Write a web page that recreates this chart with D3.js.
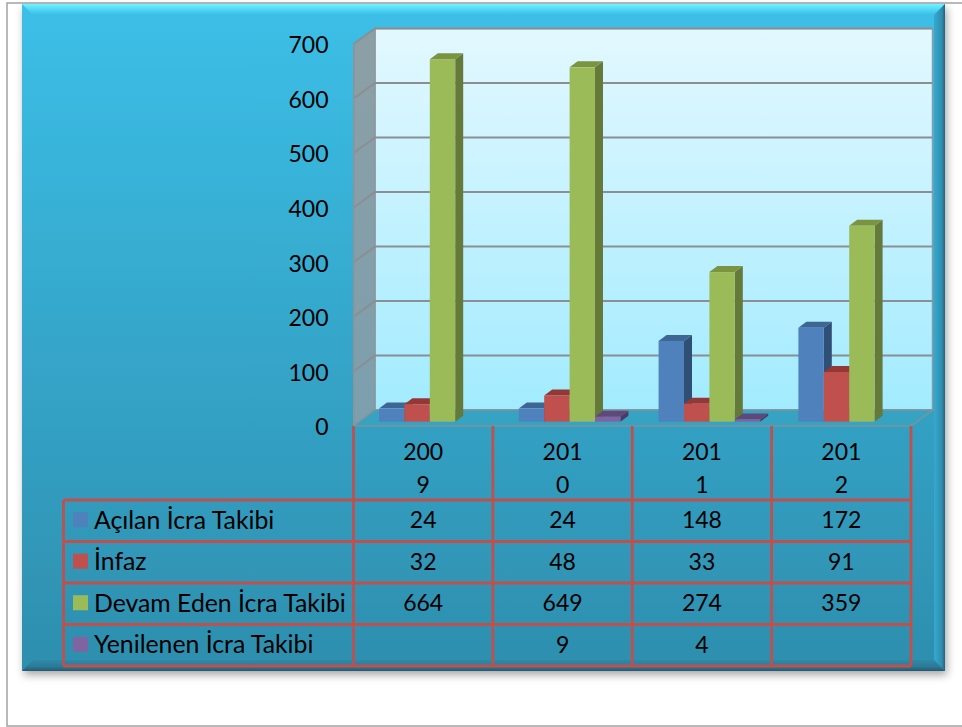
<!DOCTYPE html>
<html lang="tr">
<head>
<meta charset="utf-8">
<title>İcra Takibi</title>
<script src="https://cdn.jsdelivr.net/npm/d3@7/dist/d3.min.js"></script>
<style>
	body { margin: 0; background: #fff; }
	svg { display: block; }
	text { font-family: Lato, "Open Sans", sans-serif; fill: #000; }
</style>
</head>
<body>
<svg width="962" height="727"></svg>
<script>
// data
var years = ["2009", "2010", "2011", "2012"];
var seriesNames = ["Açılan İcra Takibi", "İnfaz", "Devam Eden İcra Takibi", "Yenilenen İcra Takibi"];
var acilan = [24, 24, 148, 172];
var infaz = [32, 48, 33, 91];
var devam = [664, 649, 274, 359];
var yenilenen = [null, 9, 4, null];
var yTicks = [0, 100, 200, 300, 400, 500, 600, 700];

var seriesValues = [acilan, infaz, devam, yenilenen];
var colors = ["#4f81bd", "#c0504d", "#9bbb59", "#8064a2"];
var topColors = ["#3d6694", "#953735", "#7a943f", "#5f497a"];
var sideColors = ["#2f4f77", "#772c2a", "#64793a", "#4c3a63"];

var svg = d3.select("svg");
var defs = svg.append("defs");

function gradient(id, stops, horizontal) {
	var g = defs.append("linearGradient").attr("id", id)
		.attr("x1", 0).attr("y1", 0)
		.attr("x2", horizontal ? 1 : 0).attr("y2", horizontal ? 0 : 1);
	stops.forEach(function (s) {
		g.append("stop").attr("offset", s[0]).attr("stop-color", s[1]);
	});
}
gradient("panelFill", [[0, "#3cbfe7"], [1, "#2e8eae"]]);
gradient("wallFill", [[0, "#e3f8ff"], [1, "#a2ebff"]]);
gradient("sideWall", [[0, "#8d9fa5"], [1, "#7c9fae"]]);
gradient("topBevel", [[0, "#6ff3ff"], [0.75, "#45c9ee"], [1, "#3cbfe7"]]);
gradient("rightBevel", [[0, "#36a9ce"], [0.7, "#2f8fb0"], [1, "#28627c"]], true);
gradient("bottomBevel", [[0, "#2e8aa9"], [0.6, "#2b7a98"], [1, "#26586f"]]);

var shadow = defs.append("filter").attr("id", "shadow")
	.attr("x", "-3%").attr("y", "-3%").attr("width", "106%").attr("height", "106%");
shadow.append("feDropShadow").attr("dx", 2).attr("dy", 4).attr("stdDeviation", 4)
	.attr("flood-color", "#000").attr("flood-opacity", 0.35);

var line = d3.line().curve(d3.curveLinearClosed);

// page frame
svg.append("path").attr("d", "M963,3H7V726H963")
	.attr("fill", "none").attr("stroke", "#a3a3a3").attr("stroke-width", 1.5);

// panel with bevel
var L = 22, T = 4, R = 945, B = 671, bev = 11;
svg.append("rect").attr("x", L).attr("y", T).attr("width", R - L).attr("height", B - T)
	.attr("fill", "url(#panelFill)").attr("filter", "url(#shadow)");
svg.append("path").attr("d", line([[L, T], [R, T], [R - bev, T + bev], [L + bev, T + bev]]))
	.attr("fill", "url(#topBevel)");
svg.append("path").attr("d", line([[R, T], [R, B], [R - bev, B - bev], [R - bev, T + bev]]))
	.attr("fill", "url(#rightBevel)");
svg.append("path").attr("d", line([[L, B], [R, B], [R - bev, B - bev], [L + bev, B - bev]]))
	.attr("fill", "url(#bottomBevel)");

// scales
var wallLeft = 375, wallRight = 932.5, frontLeft = 353.5, frontRight = 911;
var yBack = d3.scaleLinear().domain([0, 700]).range([410, 28.5]);
var yFront = d3.scaleLinear().domain([0, 700]).range([426, 44]);
var yBar = d3.scaleLinear().domain([0, 700]).range([421.7, 39.5]);
var xTable = d3.scaleBand().domain(years).range([frontLeft, frontRight]);
var xBar = d3.scaleBand().domain(years).range([379, 938.2]);
var xSeries = d3.scaleBand().domain(d3.range(4)).range([0, 101.6]);
var depthX = 8, depthY = 6;

// walls and floor
svg.append("path")
	.attr("d", line([[wallLeft, yBack(700)], [wallRight, yBack(700)], [wallRight, yBack(0)], [wallLeft, yBack(0)]]))
	.attr("fill", "url(#wallFill)").attr("stroke", "#8c9ca3").attr("stroke-width", 1.5);
svg.append("path")
	.attr("d", line([[frontLeft, yFront(700)], [wallLeft, yBack(700)], [wallLeft, yBack(0)], [frontLeft, yFront(0)]]))
	.attr("fill", "url(#sideWall)").attr("stroke", "#8c9499").attr("stroke-width", 1);
svg.append("path")
	.attr("d", line([[frontLeft, yFront(0)], [wallLeft, yBack(0)], [wallRight, yBack(0)], [frontRight, yFront(0)]]))
	.attr("fill", "#36a3c3").attr("stroke", "#7f939b").attr("stroke-width", 1.5);

// gridlines
svg.append("g").selectAll("path")
	.data(yTicks.filter(function (d) { return d > 0; }))
	.enter()
		.append("path")
		.attr("d", function (d) {
			return "M" + frontLeft + "," + yFront(d) + "L" + wallLeft + "," + yBack(d) + "H" + wallRight;
		})
		.attr("fill", "none")
		.attr("stroke", "#8a8f92")
		.attr("stroke-width", 2);

// y axis
var axis = svg.append("g")
	.attr("transform", "translate(" + frontLeft + ",0)")
	.call(d3.axisLeft(yFront).tickValues(yTicks).tickSize(0).tickPadding(25));
axis.select(".domain").attr("stroke", "#8c9499").attr("stroke-width", 1.5);
axis.selectAll("text").attr("font-size", 23).attr("dy", "0.38em").style("font-family", "Lato");

// bars
seriesValues.forEach(function (values, s) {
	var g = svg.append("g");
	var bars = years.map(function (y, i) {
		return { year: y, value: values[i] };
	}).filter(function (d) { return d.value !== null; });

	function box(d) {
		return {
			x0: xBar(d.year) + xSeries(s),
			x1: xBar(d.year) + xSeries(s) + xSeries.bandwidth(),
			y0: yBar(d.value),
			y1: yBar(0)
		};
	}
	g.selectAll(".side").data(bars).enter().append("path")
		.attr("d", function (d) {
			var b = box(d);
			return line([[b.x1, b.y0], [b.x1 + depthX, b.y0 - depthY], [b.x1 + depthX, b.y1 - depthY], [b.x1, b.y1]]);
		})
		.attr("fill", sideColors[s]);
	g.selectAll(".top").data(bars).enter().append("path")
		.attr("d", function (d) {
			var b = box(d);
			return line([[b.x0, b.y0], [b.x0 + depthX, b.y0 - depthY], [b.x1 + depthX, b.y0 - depthY], [b.x1, b.y0]]);
		})
		.attr("fill", topColors[s]);
	g.selectAll(".front").data(bars).enter().append("rect")
		.attr("x", function (d) { return box(d).x0; })
		.attr("y", function (d) { return box(d).y0; })
		.attr("width", xSeries.bandwidth())
		.attr("height", function (d) { return yBar(0) - yBar(d.value); })
		.attr("fill", colors[s]);
});

// data table
var rowTops = [500, 541.5, 583, 624.5, 666];
var tableLeft = 63.5;
var tableLines = svg.append("g").attr("stroke", "#c0504d").attr("stroke-width", 2.8).attr("fill", "none");
rowTops.forEach(function (y) {
	tableLines.append("path").attr("d", "M" + tableLeft + "," + y + "H" + frontRight);
});
tableLines.append("path").attr("d", "M" + tableLeft + "," + rowTops[0] + "V" + rowTops[4]);
years.concat(["end"]).forEach(function (y, i) {
	var x = i < years.length ? xTable(y) : frontRight;
	tableLines.append("path").attr("d", "M" + x + "," + yFront(0) + "V" + rowTops[4]);
});

years.forEach(function (y) {
	var cx = xTable(y) + xTable.bandwidth() / 2;
	svg.append("text").attr("x", cx).attr("y", 451).attr("text-anchor", "middle")
		.attr("dominant-baseline", "central").attr("font-size", 23).text(y.slice(0, 3));
	svg.append("text").attr("x", cx).attr("y", 484).attr("text-anchor", "middle")
		.attr("dominant-baseline", "central").attr("font-size", 23).text(y.slice(3));
});

seriesNames.forEach(function (name, s) {
	var cy = (rowTops[s] + rowTops[s + 1]) / 2;
	svg.append("rect").attr("x", 73).attr("y", cy - 8.5).attr("width", 15).attr("height", 15)
		.attr("fill", colors[s]);
	svg.append("text").attr("x", 94).attr("y", cy - 1.5).attr("dominant-baseline", "central")
		.attr("font-size", 24.8).text(name);
	seriesValues[s].forEach(function (v, i) {
		if (v === null) return;
		svg.append("text")
			.attr("x", xTable(years[i]) + xTable.bandwidth() / 2)
			.attr("y", cy - 1.5)
			.attr("text-anchor", "middle")
			.attr("dominant-baseline", "central")
			.attr("font-size", 23)
			.text(v);
	});
});
</script>
</body>
</html>
